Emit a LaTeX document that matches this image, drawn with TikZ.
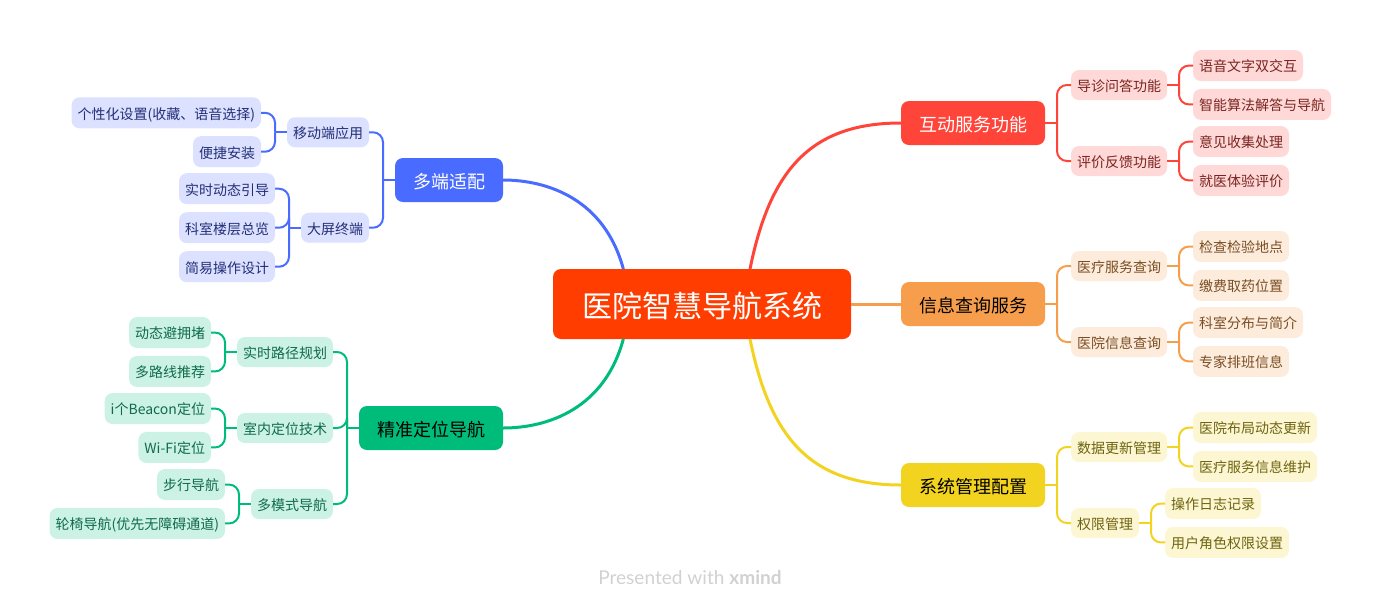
\documentclass[tikz,border=0pt]{standalone}
\usepackage{fontspec}
\setmainfont{Noto Sans CJK SC}
\newfontfamily\footfont{Lato}
\usetikzlibrary{positioning}
\definecolor{rootfill}{HTML}{FF3D00}
\definecolor{linered}{HTML}{FF453A}
\definecolor{softred}{HTML}{FFD9D7}
\definecolor{inkred}{HTML}{7A2420}
\definecolor{lineorange}{HTML}{F79E4C}
\definecolor{softorange}{HTML}{FDECDC}
\definecolor{inkorange}{HTML}{7A4E24}
\definecolor{lineyellow}{HTML}{F2D31F}
\definecolor{softyellow}{HTML}{FCF6D2}
\definecolor{inkyellow}{HTML}{6F6410}
\definecolor{lineblue}{HTML}{4A6BFF}
\definecolor{softblue}{HTML}{DBE1FE}
\definecolor{inkblue}{HTML}{242F78}
\definecolor{linegreen}{HTML}{00BC7B}
\definecolor{softgreen}{HTML}{CCF2E5}
\definecolor{inkgreen}{HTML}{0F6B4A}
\tikzset{
    rootbox/.style={rounded corners=6pt,outer sep=0pt,inner xsep=21.75pt,inner ysep=0pt,minimum height=52.5pt,text height=22.5pt,text depth=2.25pt,fill=#1,text=white,font=\fontsize{22.5}{26}\selectfont},
    mainbox/.style={rounded corners=6pt,outer sep=0pt,inner xsep=13.5pt,inner ysep=0pt,minimum height=33pt,text height=13.5pt,text depth=1.35pt,fill=line#1,font=\fontsize{13.5}{16}\selectfont},
    subbox/.style={rounded corners=6pt,outer sep=0pt,inner xsep=4.5pt,inner ysep=0pt,minimum height=22.5pt,text height=10.5pt,text depth=1.05pt,fill=soft#1,text=ink#1,font=\fontsize{10.5}{12}\selectfont},
    leafbox/.style={subbox=#1,minimum height=23.25pt},
    link/.style={draw=line#1,line width=1.5pt},
    bigcurve/.style={draw=line#1,line width=2.25pt}
}
\begin{document}
\begin{tikzpicture}
        \useasboundingbox (0,0) rectangle (1035.75pt,-456pt);
        \node[rootbox=rootfill] (root) at (526.5pt,-228pt) {医院智慧导航系统};

        \node[mainbox=red,text=white,right=37.5pt of root,yshift=135.75pt] (talk) {互动服务功能};
        \node[mainbox=orange,text=black,right=37.5pt of root] (info) {信息查询服务};
        \node[mainbox=yellow,text=black,right=37.5pt of root,yshift=-135.75pt] (admin) {系统管理配置};
        \node[mainbox=blue,text=white,left=37.5pt of root,yshift=93pt] (multi) {多端适配};
        \node[mainbox=green,text=black,left=37.5pt of root,yshift=-93pt] (locate) {精准定位导航};

        \node[subbox=red,right=19.5pt of talk,yshift=28.5pt] (guide) {导诊问答功能};
        \node[subbox=red,right=19.5pt of talk,yshift=-28.5pt] (review) {评价反馈功能};
        \node[leafbox=red,right=19.5pt of guide,yshift=14.6pt] (voice) {语音文字双交互};
        \node[leafbox=red,right=19.5pt of guide,yshift=-14.6pt] (smart) {智能算法解答与导航};
        \node[leafbox=red,right=19.5pt of review,yshift=14.6pt] (opinion) {意见收集处理};
        \node[leafbox=red,right=19.5pt of review,yshift=-14.6pt] (visit) {就医体验评价};

        \node[subbox=orange,right=19.5pt of info,yshift=28.5pt] (service) {医疗服务查询};
        \node[subbox=orange,right=19.5pt of info,yshift=-28.5pt] (hospital) {医院信息查询};
        \node[leafbox=orange,right=19.5pt of service,yshift=14.6pt] (exam) {检查检验地点};
        \node[leafbox=orange,right=19.5pt of service,yshift=-14.6pt] (pay) {缴费取药位置};
        \node[leafbox=orange,right=19.5pt of hospital,yshift=14.6pt] (dept) {科室分布与简介};
        \node[leafbox=orange,right=19.5pt of hospital,yshift=-14.6pt] (expert) {专家排班信息};

        \node[subbox=yellow,right=19.5pt of admin,yshift=28.5pt] (update) {数据更新管理};
        \node[subbox=yellow,right=19.5pt of admin,yshift=-28.5pt] (rights) {权限管理};
        \node[leafbox=yellow,right=19.5pt of update,yshift=14.6pt] (layout) {医院布局动态更新};
        \node[leafbox=yellow,right=19.5pt of update,yshift=-14.6pt] (upkeep) {医疗服务信息维护};
        \node[leafbox=yellow,right=19.5pt of rights,yshift=14.6pt] (oplog) {操作日志记录};
        \node[leafbox=yellow,right=19.5pt of rights,yshift=-14.6pt] (roles) {用户角色权限设置};

        \node[subbox=blue,left=19.5pt of multi,yshift=35.8pt] (mobile) {移动端应用};
        \node[subbox=blue,left=19.5pt of multi,yshift=-35.8pt] (screen) {大屏终端};
        \node[leafbox=blue,left=19.5pt of mobile,yshift=14.6pt] (custom) {个性化设置(收藏、语音选择)};
        \node[leafbox=blue,left=19.5pt of mobile,yshift=-14.6pt] (setup) {便捷安装};
        \node[leafbox=blue,left=19.5pt of screen,yshift=29.25pt] (live) {实时动态引导};
        \node[leafbox=blue,left=19.5pt of screen] (floors) {科室楼层总览};
        \node[leafbox=blue,left=19.5pt of screen,yshift=-29.25pt] (simple) {简易操作设计};

        \node[subbox=green,left=19.5pt of locate,yshift=57pt] (route) {实时路径规划};
        \node[subbox=green,left=19.5pt of locate] (indoor) {室内定位技术};
        \node[subbox=green,left=19.5pt of locate,yshift=-57pt] (modes) {多模式导航};
        \node[leafbox=green,left=19.5pt of route,yshift=14.6pt] (avoid) {动态避拥堵};
        \node[leafbox=green,left=19.5pt of route,yshift=-14.6pt] (paths) {多路线推荐};
        \node[leafbox=green,left=19.5pt of indoor,yshift=14.6pt] (beacon) {i个Beacon定位};
        \node[leafbox=green,left=19.5pt of indoor,yshift=-14.6pt] (wifi) {Wi-Fi定位};
        \node[leafbox=green,left=19.5pt of modes,yshift=14.6pt] (walk) {步行导航};
        \node[leafbox=green,left=19.5pt of modes,yshift=-14.6pt] (chair) {轮椅导航(优先无障碍通道)};

        \draw[bigcurve=red] ([xshift=36pt]root.north) .. controls +(15pt,74pt) and +(-68pt,0pt) .. (talk.west);
        \draw[bigcurve=orange] (root.east) -- (info.west);
        \draw[bigcurve=yellow] ([xshift=36pt]root.south) .. controls +(15pt,-74pt) and +(-68pt,0pt) .. (admin.west);
        \draw[bigcurve=blue] ([xshift=-59pt]root.north) .. controls +(-14pt,52pt) and +(34pt,0pt) .. (multi.east);
        \draw[bigcurve=green] ([xshift=-59pt]root.south) .. controls +(-14pt,-52pt) and +(34pt,0pt) .. (locate.east);

        \foreach \hub/\tone/\kids in {talk/red/{guide,review},guide/red/{voice,smart},review/red/{opinion,visit},info/orange/{service,hospital},service/orange/{exam,pay},hospital/orange/{dept,expert},admin/yellow/{update,rights},update/yellow/{layout,upkeep},rights/yellow/{oplog,roles}} {
            \coordinate[right=9pt of \hub] (\hub fork);
            \draw[link=\tone] (\hub.east) -- (\hub fork);
            \foreach \kid in \kids
                \draw[link=\tone,rounded corners=7.5pt] (\hub fork) |- (\kid.west);
        }
        \foreach \hub/\tone/\kids in {multi/blue/{mobile,screen},mobile/blue/{custom,setup},screen/blue/{live,floors,simple},locate/green/{route,indoor,modes},route/green/{avoid,paths},indoor/green/{beacon,wifi},modes/green/{walk,chair}} {
            \coordinate[left=9pt of \hub] (\hub fork);
            \draw[link=\tone] (\hub.west) -- (\hub fork);
            \foreach \kid in \kids
                \draw[link=\tone,rounded corners=7.5pt] (\hub fork) |- (\kid.east);
        }

        \node[text=black!18,font=\footfont\fontsize{14.3}{17}\selectfont] (mark) at (517.5pt,-432.75pt) {Presented with \textbf{xmind}};
    \end{tikzpicture}
\end{document}
